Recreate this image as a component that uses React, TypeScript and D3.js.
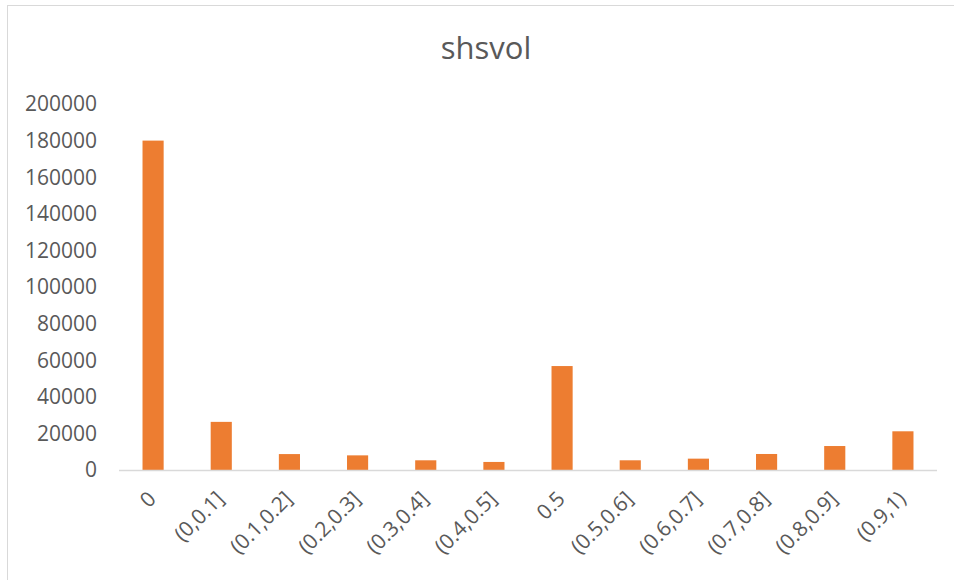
import React, { useEffect, useRef } from 'react'
import * as d3 from 'd3'

const title = 'shsvol'
const categories = ['0', '(0,0.1]', '(0.1,0.2]', '(0.2,0.3]', '(0.3,0.4]', '(0.4,0.5]', '0.5', '(0.5,0.6]', '(0.6,0.7]', '(0.7,0.8]', '(0.8,0.9]', '(0.9,1)']
const values = [180000, 26300, 8700, 8000, 5300, 4400, 56800, 5300, 6200, 8750, 13100, 21150]
const yTicks = [0, 20000, 40000, 60000, 80000, 100000, 120000, 140000, 160000, 180000, 200000]

const W = 954
const H = 580

export default function App() {
  const ref = useRef<SVGSVGElement>(null)

  useEffect(() => {
    const svg = d3.select(ref.current)
    svg.selectAll('*').remove()

    const font = '"Open Sans", "Noto Sans", sans-serif'
    const textColor = '#595959'

    // chart frame (cropped at right/bottom)
    svg.append('rect')
      .attr('x', 7.5).attr('y', 5.5)
      .attr('width', W + 10).attr('height', H + 10)
      .attr('fill', '#fff')
      .attr('stroke', '#d9d9d9')

    svg.append('text')
      .attr('x', 486).attr('y', 59)
      .attr('text-anchor', 'middle')
      .attr('font-family', font)
      .attr('font-size', 31)
      .attr('fill', textColor)
      .text(title)

    const x = d3.scaleBand()
      .domain(categories)
      .range([119, 937])
      .paddingInner(0.69)
      .paddingOuter(0.345)

    const y = d3.scaleLinear()
      .domain([0, 200000])
      .range([470, 104])

    // y labels
    svg.append('g')
      .selectAll('text')
      .data(yTicks)
      .enter().append('text')
      .attr('x', 97)
      .attr('y', d => y(d))
      .attr('dy', '0.35em')
      .attr('text-anchor', 'end')
      .attr('font-family', font)
      .attr('font-size', 21)
      .attr('fill', textColor)
      .text(d => d)

    // bars
    svg.append('g')
      .selectAll('rect')
      .data(values)
      .enter().append('rect')
      .attr('x', (d, i) => x(categories[i]) as number)
      .attr('y', d => y(d))
      .attr('width', x.bandwidth())
      .attr('height', d => y(0) - y(d))
      .attr('fill', '#ed7d31')

    // x axis line
    svg.append('line')
      .attr('x1', 119).attr('x2', 937)
      .attr('y1', y(0) + 0.5).attr('y2', y(0) + 0.5)
      .attr('stroke', '#d9d9d9')
      .attr('stroke-width', 1.5)

    // x labels, rotated
    svg.append('g')
      .selectAll('text')
      .data(categories)
      .enter().append('text')
      .attr('transform', d => `translate(${(x(d) as number) + x.bandwidth() / 2 - 1},495) rotate(-45)`)
      .attr('dy', '0.35em')
      .attr('text-anchor', 'end')
      .attr('font-family', font)
      .attr('font-size', 21)
      .attr('fill', textColor)
      .text(d => d)
  }, [])

  return (
    <svg ref={ref} width={W} height={H}
      style={{ position: 'absolute', left: 0, top: 0, background: '#fff' }} />
  )
}
